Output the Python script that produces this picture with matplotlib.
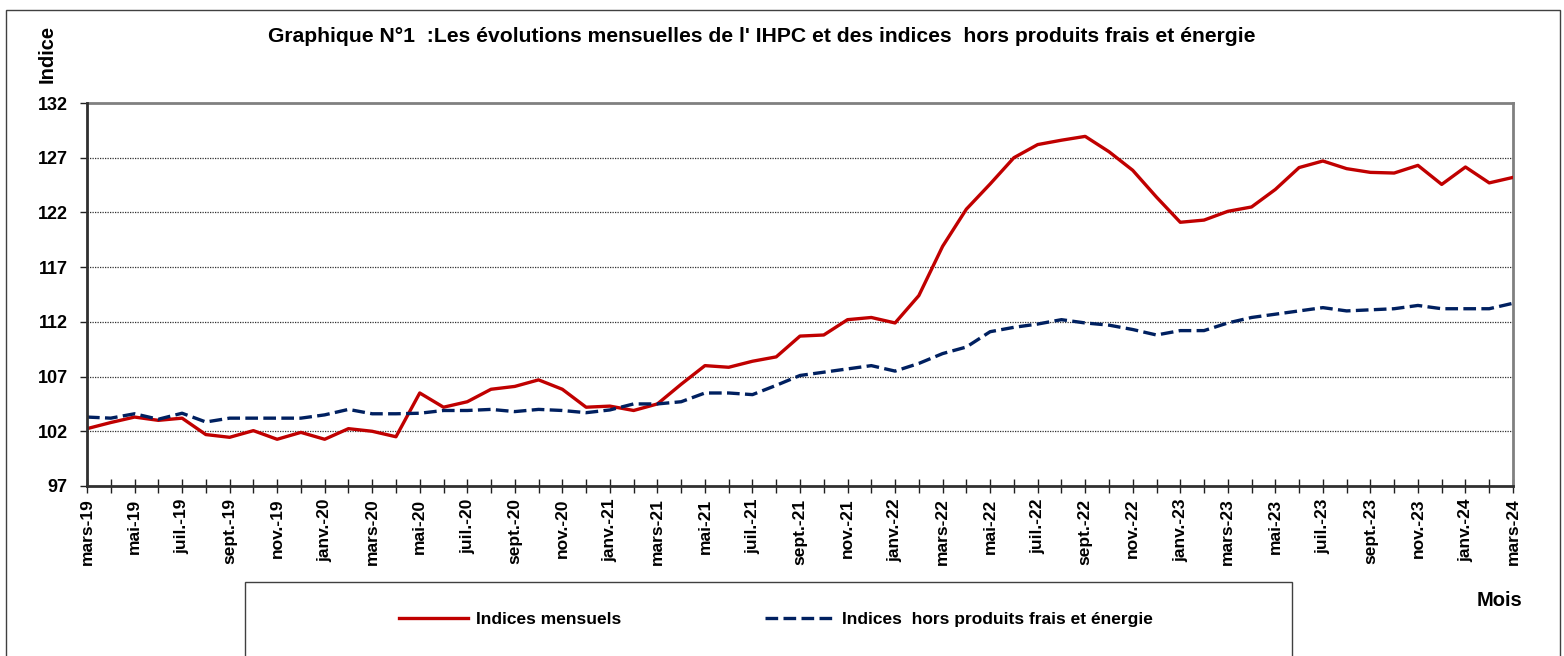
import matplotlib
matplotlib.use("Agg")
import matplotlib.pyplot as plt
from matplotlib.patches import Rectangle

plt.rcParams['font.family'] = ['Liberation Sans', 'DejaVu Sans']
plt.rcParams['font.weight'] = 'bold'

# ---- data ----
month_names = ["janv.", "févr.", "mars", "avr.", "mai", "juin",
               "juil.", "août", "sept.", "oct.", "nov.", "déc."]
start_year, start_month, n_months = 2019, 3, 61
months = []
for k in range(n_months):
    m = (start_month - 1 + k) % 12
    y = start_year + (start_month - 1 + k) // 12
    months.append(f"{month_names[m]}-{y % 100:02d}")

indices_mensuels = [
    102.24, 102.8, 103.3, 103.0, 103.2, 101.7, 101.45, 102.06, 101.27, 101.9,
    101.27, 102.24, 102.0, 101.5, 105.5, 104.2, 104.7, 105.84, 106.1,
    106.7, 105.84, 104.2, 104.3, 103.9, 104.5, 106.3, 108.0, 107.85, 108.4,
    108.8, 110.7, 110.8, 112.2, 112.4, 111.9, 114.4, 118.9,
    122.3, 124.6, 127.0, 128.2, 128.6, 128.95, 127.55, 125.85, 123.4, 121.1,
    121.3, 122.1, 122.5, 124.1, 126.1, 126.7, 126.0, 125.66, 125.6, 126.3,
    124.56, 126.15, 124.7, 125.2]

indices_hors_pfe = [
    103.3, 103.2, 103.6, 103.1, 103.65, 102.85, 103.2, 103.2, 103.2, 103.2,
    103.5, 104.0, 103.6, 103.6, 103.65, 103.9, 103.9, 104.0, 103.8,
    104.0, 103.9, 103.7, 103.95, 104.5, 104.5, 104.7, 105.5, 105.5, 105.35,
    106.2, 107.1, 107.4, 107.7, 108.0, 107.5, 108.2, 109.1,
    109.7, 111.1, 111.5, 111.8, 112.2, 111.9, 111.7, 111.3, 110.8, 111.2,
    111.2, 111.9, 112.4, 112.7, 113.0, 113.3, 113.0, 113.1, 113.2, 113.5,
    113.2, 113.2, 113.2, 113.7]

y_ticks = [97, 102, 107, 112, 117, 122, 127, 132]

title = "Graphique N°1  :Les évolutions mensuelles de l' IHPC et des indices  hors produits frais et énergie"
label_red = "Indices mensuels"
label_blue = "Indices  hors produits frais et énergie"

# ---- figure ----
W, H = 1564, 656
fig = plt.figure(figsize=(W / 100, H / 100), dpi=100)

def fx(px):
    return px / W

def fy(py):
    return 1 - py / H

# outer border
fig.patches.append(Rectangle((fx(6), fy(700)), fx(1560) - fx(6), fy(10) - fy(700),
                             transform=fig.transFigure, fill=False,
                             edgecolor='#404040', linewidth=1.0))
# legend box
fig.patches.append(Rectangle((fx(245), fy(700)), fx(1292) - fx(245), fy(582) - fy(700),
                             transform=fig.transFigure, fill=False,
                             edgecolor='#404040', linewidth=1.0))

ax = fig.add_axes([fx(87), fy(486), fx(1513) - fx(87), fy(103) - fy(486)])
x = list(range(len(months)))

ax.plot(x, indices_mensuels, color='#C00000', linewidth=2.4, solid_joinstyle='round',
        label=label_red, zorder=3)
ax.plot(x, indices_hors_pfe, color='#002060', linewidth=2.4, linestyle=(0, (3.8, 1.6)),
        label=label_blue, zorder=3)

ax.set_xlim(0, len(months) - 1)
ax.set_ylim(97, 132)
ax.set_yticks(y_ticks)
ax.set_yticklabels([str(v) for v in y_ticks], fontsize=13, fontweight='bold')
ax.set_xticks(x)
ax.set_xticklabels([m if i % 2 == 0 else '' for i, m in enumerate(months)],
                   rotation=90, fontsize=12.5, fontweight='bold', va='top', ha='center')

ax.tick_params(axis='y', direction='out', length=5, width=1, pad=9, color='#202020')
ax.tick_params(axis='x', direction='inout', length=10, width=1, pad=4, color='#202020')

for yv in y_ticks[1:-1]:
    ax.axhline(yv, color='#303030', linewidth=0.9, linestyle=(0, (1, 1)), zorder=1)

for side in ['top', 'right']:
    ax.spines[side].set_color('#808080')
    ax.spines[side].set_linewidth(2)
for side in ['left', 'bottom']:
    ax.spines[side].set_color('#303030')
    ax.spines[side].set_linewidth(2)
    ax.spines[side].set_zorder(4)

fig.text(fx(762), fy(36), title, ha='center', va='center', fontsize=15.2, fontweight='bold')
fig.text(fx(47), fy(54), "Indice", ha='center', va='center', rotation=90,
         fontsize=14.5, fontweight='bold')
fig.text(fx(1499), fy(601), "Mois", ha='center', va='center', fontsize=14.5, fontweight='bold')

handles, labels = ax.get_legend_handles_labels()
leg = fig.legend(handles, labels, loc='center', bbox_to_anchor=(fx(776), fy(619)),
                 ncol=2, frameon=False, prop={'size': 12.5, 'weight': 'bold'},
                 handlelength=4.0, handletextpad=0.45, columnspacing=8.3)

fig.savefig("out.png", dpi=100)
